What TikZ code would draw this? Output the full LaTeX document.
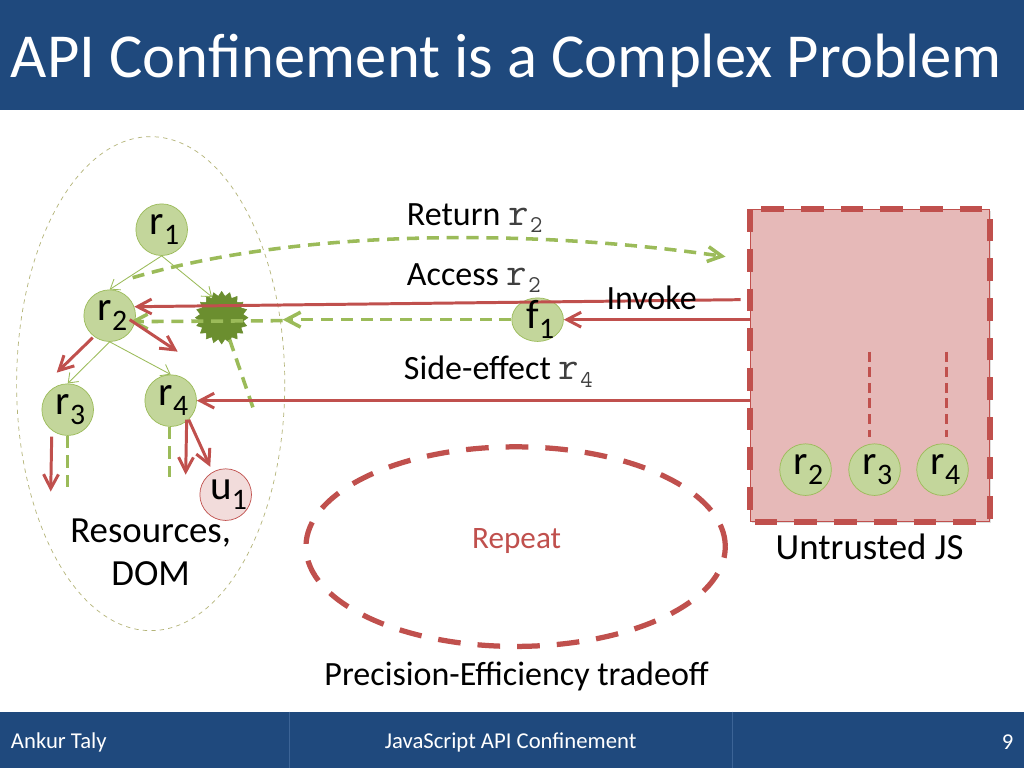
\documentclass[tikz,border=0pt]{standalone}
\usepackage{fontspec}
\setmainfont{Carlito}
\usetikzlibrary{shapes.geometric, arrows.meta, positioning, calc, shadows}
\definecolor{cHeader}{RGB}{31, 73, 125}
\definecolor{cRule}{RGB}{60, 100, 150}
\definecolor{bRed}{RGB}{192, 80, 77}
\definecolor{bGreen}{RGB}{155, 187, 89}
\definecolor{cGreen}{RGB}{195, 214, 155}
\definecolor{cPink}{RGB}{242, 220, 219}
\definecolor{cBox}{RGB}{230, 185, 184}
\definecolor{cStar}{RGB}{107, 142, 47}
\definecolor{bOval}{RGB}{180, 180, 120}
\newcommand{\res}[2]{\hspace*{4pt}\raisebox{2pt}{\fontsize{29}{30}\selectfont #1}\raisebox{-5pt}{\fontsize{21}{22}\selectfont #2}}
\newcommand{\code}[2]{{\ttfamily\color{black!75}\fontsize{28}{30}\selectfont #1\hspace{1pt}\raisebox{-5pt}{\fontsize{17}{18}\selectfont #2}}}

\begin{document}
\begin{tikzpicture}[
    x=0.0248cm, y=-0.0248cm,
    font=\fontsize{24}{28}\selectfont,
    >={Straight Barb[length=10pt,width=10.5pt]},
    res/.style={
        circle,
        draw=bGreen,
        fill=#1,
        line width=0.5pt,
        minimum size=1.28cm,
        inner sep=0pt
    },
    res/.default=cGreen,
    link/.style={->, line width=0.6pt, color=bGreen, >={Straight Barb[length=6pt,width=9pt]}},
    redarrow/.style={->, line width=2.1pt, color=bRed},
    greendash/.style={line width=2.5pt, color=bGreen, dash pattern=on 8.5pt off 5.5pt},
    redloop/.style={draw=bRed, line width=4.5pt, dash pattern=on 16pt off 12pt}
]

% Slide frame
\node[fill=white, minimum width=25.395cm, minimum height=19.046cm, inner sep=0pt, anchor=north west] (page) at (0,0) {};
\node[fill=cHeader, minimum width=25.395cm, minimum height=2.73cm, inner sep=0pt, anchor=north west] (header) at (0,0) {};
\node[fill=cHeader, minimum width=25.395cm, minimum height=1.39cm, inner sep=0pt, anchor=north west] (footer) at (0,712) {};
\draw[cRule, line width=0.5pt] (290,712) -- (290,768);
\draw[cRule, line width=0.5pt] (733,712) -- (733,768);
\node[text=white, font=\fontsize{44.2}{50}\selectfont, anchor=west, inner sep=0pt] (title) at (11,61) {API Confinement is a Complex Problem};
\node[text=white, font=\fontsize{16}{18}\selectfont, anchor=west, inner sep=0pt] (author) at (11,743) {Ankur Taly};
\node[text=white, font=\fontsize{16}{18}\selectfont, inner sep=0pt] (talk) at (511,743) {JavaScript API Confinement};
\node[text=white, font=\fontsize{16}{18}\selectfont, anchor=east, inner sep=0pt] (pageno) at (1014,743) {9};

% Resources oval
\node[ellipse, draw=bOval, dashed, line width=0.5pt, minimum width=6.65cm, minimum height=12.25cm, inner sep=0pt] (dom) at (151,384) {};
\node[align=center, font=\fontsize{26}{30.5}\selectfont, inner sep=0pt] (domlabel) at (151,553) {Resources,\\DOM};

% Tree
\node[res] (r1) at (162,230) {\res{r}{1}};
\node[res] (r2) at (110,316) {\res{r}{2}};
\node[res] (r3) at (68,410) {\res{r}{3}};
\node[res] (r4) at (171,401) {\res{r}{4}};
\node[res=cPink, draw=bRed] (u1) at (226,495) {\res{u}{1}};
\node[star, star points=20, star point ratio=1.22, fill=cStar, draw=cStar, minimum size=1.3cm, inner sep=0pt] (burst) at (222,318) {};
\node[res, ellipse, minimum width=1.28cm, minimum height=1.08cm] (f1) at (538,320) {};

\draw[link] (r1.south) -- (r2.north);
\draw[link] (r1.south) -- (burst.115);
\draw[link] (r2.south) -- (r3.north);
\draw[link] (r2.south) -- (r4.north);

% Untrusted box
\node[fill=cBox, draw=bRed, line width=0.5pt, minimum width=5.93cm, minimum height=7.74cm, inner sep=0pt, drop shadow={opacity=0.25, shadow xshift=1pt, shadow yshift=-1pt}] (box) at (870.5,366) {};
\draw[redloop] (box.north west) -- (box.south west) -- (box.south east) -- (box.north east) -- cycle;
\node[font=\fontsize{26}{30}\selectfont, inner sep=0pt] (boxlabel) at (870,547) {Untrusted JS};
\node[res] (b2) at (806,470) {\res{r}{2}};
\node[res] (b3) at (875,470) {\res{r}{3}};
\node[res] (b4) at (943,470) {\res{r}{4}};
\coordinate (t3) at (870,352);
\coordinate (t4) at (947,352);
\coordinate (e3) at (870,437);
\coordinate (e4) at (947,437);
\draw[bRed, line width=1.7pt, dash pattern=on 7pt off 4pt] (t3) -- (e3);
\draw[bRed, line width=1.7pt, dash pattern=on 7pt off 4pt] (t4) -- (e4);

% Calls between the two sides
\coordinate (retstart) at (133,278);
\coordinate (retend) at (726,257);
\draw[greendash, ->] (retstart) .. controls (300,229) and (530,229) .. (retend);
\draw[greendash, ->] (f1.west) -- (283,320);
\draw[greendash, ->] (283,321) -- (130,322);
\draw[greendash] (230,340) -- (254,410);
\coordinate (accstart) at (741,300);
\draw[redarrow] (accstart) -- (r2.20);
\draw[redarrow] (box.west |- f1) -- (f1.east);
\draw[redarrow] (box.west |- r4) -- (r4.east);
\node[inner sep=0pt] at (f1) {\res{f}{1}};

% Side effects in the tree
\draw[redarrow] (130,320) -- (178,352);
\draw[redarrow] (93,338) -- (57,373);
\draw[redarrow] (52,437) -- (51,492);
\draw[greendash] (68,436) -- (68,490);
\draw[greendash] (170,427) -- (170,477);
\draw[redarrow] (187,420) -- (186,475);
\draw[redarrow, shorten >=4pt] (189,420) -- (u1.120);

% Labels
\node[anchor=west, inner sep=0pt] (ret) at (407,218) {Return \code{r}{2}};
\node[anchor=west, inner sep=0pt] (acc) at (407,278) {Access \code{r}{2}};
\node[inner sep=0pt] (inv) at (652,298) {Invoke};
\node[anchor=west, inner sep=0pt] (side) at (404,372) {Side-effect \code{r}{4}};

% Repeat loop
\node[ellipse, draw=bRed, line width=3.7pt, dash pattern=on 16pt off 12pt, minimum width=10.4cm, minimum height=4.95cm, inner sep=0pt] (loop) at (516,547) {};
\node[text=bRed, font=\fontsize{22}{26}\selectfont, inner sep=0pt] (rep) at (517,541) {Repeat};
\node[inner sep=0pt] (trade) at (517,677) {Precision-Efficiency tradeoff};

\end{tikzpicture}
\end{document}
